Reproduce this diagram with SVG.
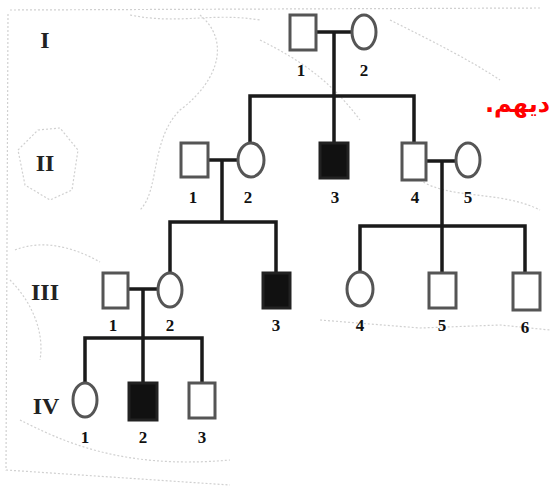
<svg xmlns="http://www.w3.org/2000/svg" width="552" height="493" viewBox="0 0 552 493">
<style>
.ln{stroke:#1a1a1a;stroke-width:3.5;fill:none;stroke-linecap:square}
.sq{fill:#fff;stroke:#555;stroke-width:3}
.af{fill:#111;stroke:#222;stroke-width:3}
.ci{fill:#fff;stroke:#555;stroke-width:3}
.lb{font-family:"Liberation Serif",serif;font-weight:bold;font-size:17px;fill:#111;text-anchor:middle}
.gen{font-family:"Liberation Serif",serif;font-weight:bold;font-size:24px;fill:#222;text-anchor:middle}
.bg{fill:none;stroke:#d0d0d0;stroke-width:1.2;stroke-dasharray:2 2}
</style>
<rect width="552" height="493" fill="#fff"/>
<g id="background">
<path class="bg" d="M10 10 L540 8 M8 14 L6 470 L230 485 M130 15 C180 25 210 12 260 20 M200 15 C230 40 220 80 180 110 C150 140 160 190 140 210 M260 40 C300 60 330 80 360 120 M390 20 C430 40 470 60 500 80 M38 130 L60 128 L78 150 L72 190 L50 200 L25 185 L18 150 Z M15 250 C40 240 70 245 100 262 M10 280 C30 300 45 330 40 360 M20 420 C60 440 120 470 230 460 M320 320 L420 328 L500 325 L550 330 M420 180 C450 200 500 190 540 210"/>
</g>
<g id="generations">
<text class="gen" x="45" y="48">I</text>
<text class="gen" x="45" y="171">II</text>
<text class="gen" x="45" y="300" font-size="20">III</text>
<text class="gen" x="46" y="414" font-size="22">IV</text>
</g>
<g id="connectors">
<path class="ln" d="M316 32 H352 M334 32 V96 M250 96 H414 M250 96 V142 M334 96 V142 M414 96 V142"/>
<path class="ln" d="M208 160 H237 M222 160 V222 M170 222 H276 M170 222 V272 M276 222 V272"/>
<path class="ln" d="M426 161 H456 M442 161 V226 M360 226 H525 M360 226 V272 M442 226 V272 M525 226 V272"/>
<path class="ln" d="M128 289 H158 M143 289 V338 M85 338 H202 M85 338 V383 M143 338 V382 M202 338 V382"/>
</g>
<g id="I-1"><rect class="sq" x="290" y="15" width="26" height="35"/><text class="lb" x="301" y="76">1</text></g>
<g id="I-2"><ellipse class="ci" cx="364" cy="32" rx="12" ry="17"/><text class="lb" x="364" y="76">2</text></g>
<g id="II-1"><rect class="sq" x="181" y="143" width="27" height="34"/><text class="lb" x="193" y="203">1</text></g>
<g id="II-2"><ellipse class="ci" cx="251" cy="160" rx="13" ry="17"/><text class="lb" x="248" y="203">2</text></g>
<g id="II-3"><rect class="af" x="320" y="143" width="28" height="35"/><text class="lb" x="335" y="203">3</text></g>
<g id="II-4"><rect class="sq" x="402" y="143" width="24" height="37"/><text class="lb" x="415" y="203">4</text></g>
<g id="II-5"><ellipse class="ci" cx="468" cy="160" rx="12" ry="17"/><text class="lb" x="468" y="203">5</text></g>
<g id="III-1"><rect class="sq" x="103" y="273" width="25" height="35"/><text class="lb" x="113" y="331">1</text></g>
<g id="III-2"><ellipse class="ci" cx="170" cy="290" rx="12" ry="17"/><text class="lb" x="170" y="331">2</text></g>
<g id="III-3"><rect class="af" x="263" y="273" width="27" height="35"/><text class="lb" x="276" y="331">3</text></g>
<g id="III-4"><ellipse class="ci" cx="360" cy="289" rx="13" ry="17"/><text class="lb" x="360" y="331">4</text></g>
<g id="III-5"><rect class="sq" x="429" y="273" width="27" height="35"/><text class="lb" x="442" y="331">5</text></g>
<g id="III-6"><rect class="sq" x="513" y="273" width="27" height="37"/><text class="lb" x="525" y="333">6</text></g>
<g id="IV-1"><ellipse class="ci" cx="85" cy="400" rx="12" ry="17"/><text class="lb" x="85" y="443">1</text></g>
<g id="IV-2"><rect class="af" x="129" y="383" width="28" height="37"/><text class="lb" x="143" y="443">2</text></g>
<g id="IV-3"><rect class="sq" x="189" y="383" width="26" height="35"/><text class="lb" x="202" y="443">3</text></g>
<text x="550" y="112" direction="rtl" text-anchor="start" font-family="'DejaVu Sans',sans-serif" font-weight="bold" font-size="24" fill="#ff0000">ديهم.</text>
</svg>
